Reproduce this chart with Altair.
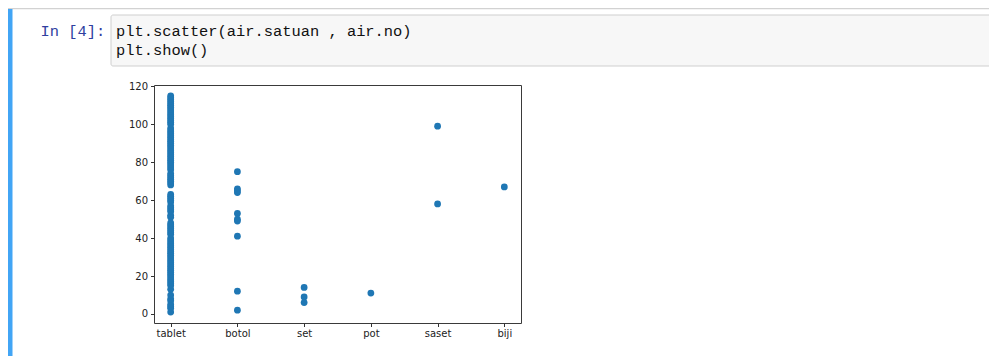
import altair as alt
import pandas as pd

categories = ["tablet", "botol", "set", "pot", "saset", "biji"]

tablet_no = [1, 3, 4, 5, 7, 8, 10, 13, 15, 16, 17, 18, 19, 20, 21, 22, 23, 24, 25,
             26, 27, 28, 29, 30, 31, 32, 33, 34, 35, 36, 37, 38, 39, 40, 42, 43, 44,
             45, 46, 47, 48, 51, 52, 54, 55, 56, 57, 59, 60, 61, 62, 63, 68, 69, 70,
             71, 72, 73, 74, 76, 77, 78, 79, 80, 81, 82, 83, 84, 85, 86, 87, 88, 89,
             90, 91, 92, 93, 94, 95, 96, 97, 98, 100, 101, 102, 103, 104, 105, 106,
             107, 108, 109, 110, 111, 112, 113, 114, 115]
botol_no = [75, 66, 65, 64, 53, 50, 49, 41, 12, 2]
set_no = [14, 9, 6]
pot_no = [11]
saset_no = [99, 58]
biji_no = [67]

y_ticks = [0, 20, 40, 60, 80, 100, 120]

prompt_text = "In [4]:"
code_lines = ["plt.scatter(air.satuan , air.no)", "plt.show()"]

series = {"tablet": tablet_no, "botol": botol_no, "set": set_no,
          "pot": pot_no, "saset": saset_no, "biji": biji_no}
rows = [{"satuan": k, "no": v} for k in categories for v in series[k]]
df = pd.DataFrame(rows)

one = alt.Data(values=[{"k": 0}])
MONO = "Liberation Mono"

top_line = alt.Chart(one).mark_rule(color="#d2d2d2", strokeWidth=1.5).encode(
    x=alt.value(-146), x2=alt.value(835), y=alt.value(-76.5))
blue_bar = alt.Chart(one).mark_rect(color="#42a5f5").encode(
    x=alt.value(-146), x2=alt.value(-141.5), y=alt.value(-76), y2=alt.value(275))
code_box = alt.Chart(one).mark_rect(fill="#f7f7f7", stroke="#cfcfcf", strokeWidth=1,
                                    cornerRadius=2).encode(
    x=alt.value(-43), x2=alt.value(840), y=alt.value(-70), y2=alt.value(-19))
prompt = alt.Chart(one).mark_text(font=MONO, fontSize=15.4, color="#303f9f",
                                  align="left", baseline="alphabetic").encode(
    x=alt.value(-113.5), y=alt.value(-49.5), text=alt.value(prompt_text))
code1 = alt.Chart(one).mark_text(font=MONO, fontSize=15.4, color="#111111",
                                 align="left", baseline="alphabetic").encode(
    x=alt.value(-38), y=alt.value(-49.5), text=alt.value(code_lines[0]))
code2 = alt.Chart(one).mark_text(font=MONO, fontSize=15.4, color="#111111",
                                 align="left", baseline="alphabetic").encode(
    x=alt.value(-38), y=alt.value(-30.5), text=alt.value(code_lines[1]))

points = alt.Chart(df).mark_circle(size=46, color="#1f77b4", opacity=1).encode(
    x=alt.X("satuan:N", sort=categories,
            scale=alt.Scale(type="point", domain=categories, padding=0.25),
            axis=alt.Axis(title=None, labelAngle=0, domain=False, grid=False,
                          tickSize=3.5, tickColor="#333333", labelColor="#222222",
                          labelFont="DejaVu Sans", labelFontSize=10, labelPadding=2)),
    y=alt.Y("no:Q",
            scale=alt.Scale(domain=[-4.75, 120.7], nice=False, zero=False),
            axis=alt.Axis(title=None, values=y_ticks, domain=False, grid=False,
                          tickSize=3.5, tickColor="#333333", labelColor="#222222",
                          labelFont="DejaVu Sans", labelFontSize=10, labelPadding=3)),
)

chart = alt.layer(top_line, blue_bar, code_box, prompt, code1, code2, points).properties(
    width=367, height=238,
    autosize=alt.AutoSizeParams(type="none"),
    padding={"left": 146, "top": 77, "right": 468, "bottom": 37},
    background="#ffffff",
).configure_view(stroke="#3a3a3a", strokeWidth=1)

chart.save("out.html", embed_options={"renderer": "svg", "actions": False})
